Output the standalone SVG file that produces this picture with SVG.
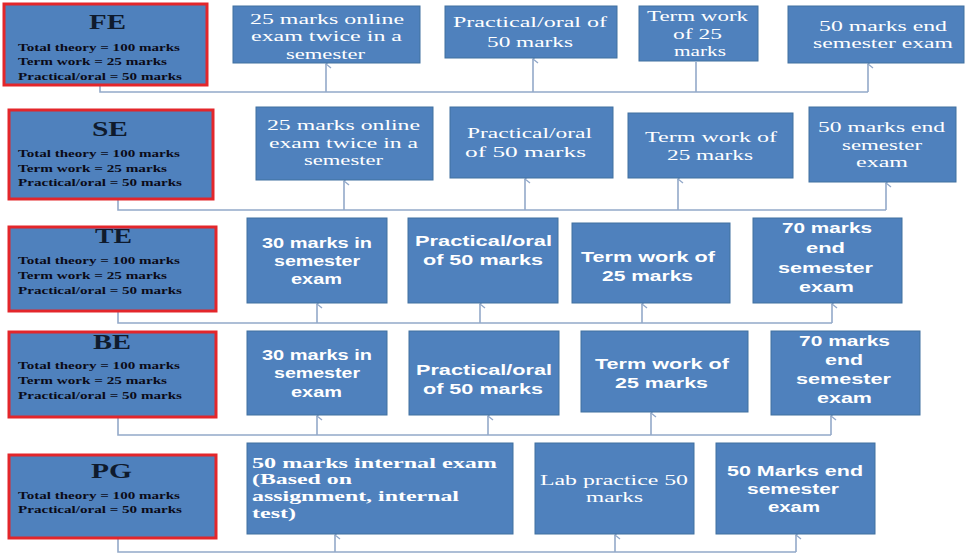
<svg xmlns="http://www.w3.org/2000/svg" width="969" height="554" viewBox="0 0 969 554">
<style>
.box{fill:#4F81BD;stroke:#41709F;stroke-width:1}
.lbox{fill:#4F81BD;stroke:#E3262B;stroke-width:3}
.sf{font-family:"Liberation Serif",serif;fill:#fff;font-size:15.5px}
.sfb{font-family:"Liberation Serif",serif;fill:#fff;font-size:15px;font-weight:bold}
.ss{font-family:"Liberation Sans",Arial,sans-serif;fill:#fff;font-size:15.5px;font-weight:bold}
.ttl{font-family:"Liberation Serif",serif;font-weight:bold;font-size:20px;fill:#0f1b2d}
.bd{font-family:"Liberation Serif",serif;font-weight:bold;font-size:10px;fill:#0b0b18}
.conn{stroke:#93A9C9;stroke-width:1.6;fill:none}
</style>
<defs>
<marker id="arr" viewBox="0 0 10 10" refX="5" refY="1" markerWidth="10" markerHeight="10" markerUnits="userSpaceOnUse" orient="auto-start-reverse">
<path d="M1,6 L5,1 L9,6" fill="none" stroke="#93A9C9" stroke-width="1.4"/>
</marker>
</defs>

<g id="connectors">
<path class="conn" d="M100,85 V92 H868"/>
<path class="conn" d="M326,92 V64" marker-end="url(#arr)"/>
<path class="conn" d="M533,92 V59" marker-end="url(#arr)"/>
<path class="conn" d="M696,92 V62"/>
<path class="conn" d="M868,92 V64" marker-end="url(#arr)"/>

<path class="conn" d="M118,199 V210 H886"/>
<path class="conn" d="M344,210 V181" marker-end="url(#arr)"/>
<path class="conn" d="M525,210 V179" marker-end="url(#arr)"/>
<path class="conn" d="M678,210 V179" marker-end="url(#arr)"/>
<path class="conn" d="M886,210 V183" marker-end="url(#arr)"/>

<path class="conn" d="M118,311 V323 H832"/>
<path class="conn" d="M317,323 V304" marker-end="url(#arr)"/>
<path class="conn" d="M480,323 V304" marker-end="url(#arr)"/>
<path class="conn" d="M642,323 V304" marker-end="url(#arr)"/>
<path class="conn" d="M832,323 V304" marker-end="url(#arr)"/>

<path class="conn" d="M118,417 V435 H831"/>
<path class="conn" d="M317,435 V416" marker-end="url(#arr)"/>
<path class="conn" d="M488,435 V416" marker-end="url(#arr)"/>
<path class="conn" d="M651,435 V413" marker-end="url(#arr)"/>
<path class="conn" d="M831,435 V416" marker-end="url(#arr)"/>

<path class="conn" d="M118,538 V552 H796"/>
<path class="conn" d="M335,552 V535" marker-end="url(#arr)"/>
<path class="conn" d="M615,552 V535" marker-end="url(#arr)"/>
<path class="conn" d="M796,552 V535" marker-end="url(#arr)"/>
</g>

<!-- FE row -->
<g id="fe">
<rect class="lbox" x="4" y="4" width="203" height="81"/>
<text class="ttl" x="89" y="29" textLength="37" lengthAdjust="spacingAndGlyphs">FE</text>
<text class="bd" x="18" y="51" textLength="162" lengthAdjust="spacingAndGlyphs">Total theory = 100 marks</text>
<text class="bd" x="18" y="65" textLength="149" lengthAdjust="spacingAndGlyphs">Term work = 25 marks</text>
<text class="bd" x="18" y="80" textLength="164" lengthAdjust="spacingAndGlyphs">Practical/oral = 50 marks</text>
</g>
<g id="fe1">
<rect class="box" x="233" y="6" width="187" height="57"/>
<text class="sf" x="250" y="24" textLength="154" lengthAdjust="spacingAndGlyphs">25 marks online</text>
<text class="sf" x="251" y="41" textLength="151" lengthAdjust="spacingAndGlyphs">exam twice in a</text>
<text class="sf" x="286" y="59" textLength="79" lengthAdjust="spacingAndGlyphs">semester</text>
</g>
<g id="fe2">
<rect class="box" x="445" y="6" width="172" height="52"/>
<text class="sf" x="453" y="27" textLength="154" lengthAdjust="spacingAndGlyphs">Practical/oral of</text>
<text class="sf" x="487" y="47" textLength="86" lengthAdjust="spacingAndGlyphs">50 marks</text>
</g>
<g id="fe3">
<rect class="box" x="639" y="6" width="119" height="55"/>
<text class="sf" x="647" y="21" textLength="101" lengthAdjust="spacingAndGlyphs">Term work</text>
<text class="sf" x="673" y="39" textLength="49" lengthAdjust="spacingAndGlyphs">of 25</text>
<text class="sf" x="674" y="56" textLength="52" lengthAdjust="spacingAndGlyphs">marks</text>
</g>
<g id="fe4">
<rect class="box" x="788" y="6" width="176" height="57"/>
<text class="sf" x="819" y="31" textLength="128" lengthAdjust="spacingAndGlyphs">50 marks end</text>
<text class="sf" x="813" y="48" textLength="140" lengthAdjust="spacingAndGlyphs">semester  exam</text>
</g>

<!-- SE row -->
<g id="se">
<rect class="lbox" x="9" y="110" width="204" height="89"/>
<text class="ttl" x="92" y="136" textLength="36" lengthAdjust="spacingAndGlyphs">SE</text>
<text class="bd" x="18" y="157" textLength="162" lengthAdjust="spacingAndGlyphs">Total theory = 100 marks</text>
<text class="bd" x="18" y="172" textLength="149" lengthAdjust="spacingAndGlyphs">Term work = 25 marks</text>
<text class="bd" x="18" y="186" textLength="164" lengthAdjust="spacingAndGlyphs">Practical/oral = 50 marks</text>
</g>
<g id="se1">
<rect class="box" x="256" y="107" width="177" height="73"/>
<text class="sf" x="267" y="130" textLength="153" lengthAdjust="spacingAndGlyphs">25 marks online</text>
<text class="sf" x="269" y="148" textLength="149" lengthAdjust="spacingAndGlyphs">exam twice in a</text>
<text class="sf" x="304" y="165" textLength="79" lengthAdjust="spacingAndGlyphs">semester</text>
</g>
<g id="se2">
<rect class="box" x="450" y="107" width="163" height="71"/>
<text class="sf" x="467" y="138" textLength="125" lengthAdjust="spacingAndGlyphs">Practical/oral</text>
<text class="sf" x="465" y="157" textLength="121" lengthAdjust="spacingAndGlyphs">of 50 marks</text>
</g>
<g id="se3">
<rect class="box" x="628" y="113" width="165" height="65"/>
<text class="sf" x="645" y="142" textLength="132" lengthAdjust="spacingAndGlyphs">Term work of</text>
<text class="sf" x="667" y="160" textLength="86" lengthAdjust="spacingAndGlyphs">25 marks</text>
</g>
<g id="se4">
<rect class="box" x="809" y="107" width="147" height="75"/>
<text class="sf" x="818" y="132" textLength="127" lengthAdjust="spacingAndGlyphs">50 marks end</text>
<text class="sf" x="842" y="150" textLength="80" lengthAdjust="spacingAndGlyphs">semester</text>
<text class="sf" x="856" y="167" textLength="52" lengthAdjust="spacingAndGlyphs">exam</text>
</g>

<!-- TE row -->
<g id="te">
<rect class="lbox" x="9" y="227" width="207" height="84"/>
<text class="ttl" x="95" y="243" textLength="37" lengthAdjust="spacingAndGlyphs">TE</text>
<text class="bd" x="18" y="264" textLength="162" lengthAdjust="spacingAndGlyphs">Total theory = 100 marks</text>
<text class="bd" x="18" y="279" textLength="149" lengthAdjust="spacingAndGlyphs">Term work = 25 marks</text>
<text class="bd" x="18" y="294" textLength="164" lengthAdjust="spacingAndGlyphs">Practical/oral = 50 marks</text>
</g>
<g id="te1">
<rect class="box" x="247" y="218" width="140" height="85"/>
<text class="ss" x="262" y="248" textLength="110" lengthAdjust="spacingAndGlyphs">30 marks in</text>
<text class="ss" x="274" y="266" textLength="86" lengthAdjust="spacingAndGlyphs">semester</text>
<text class="ss" x="291" y="284" textLength="51" lengthAdjust="spacingAndGlyphs">exam</text>
</g>
<g id="te2">
<rect class="box" x="408" y="218" width="150" height="85"/>
<text class="ss" x="415" y="246" textLength="137" lengthAdjust="spacingAndGlyphs">Practical/oral</text>
<text class="ss" x="423" y="265" textLength="120" lengthAdjust="spacingAndGlyphs">of 50 marks</text>
</g>
<g id="te3">
<rect class="box" x="572" y="223" width="158" height="80"/>
<text class="ss" x="581" y="262" textLength="134" lengthAdjust="spacingAndGlyphs">Term work of</text>
<text class="ss" x="602" y="281" textLength="91" lengthAdjust="spacingAndGlyphs">25 marks</text>
</g>
<g id="te4">
<rect class="box" x="753" y="218" width="149" height="85"/>
<text class="ss" x="782" y="233" textLength="90" lengthAdjust="spacingAndGlyphs">70 marks</text>
<text class="ss" x="806" y="253" textLength="39" lengthAdjust="spacingAndGlyphs">end</text>
<text class="ss" x="778" y="273" textLength="95" lengthAdjust="spacingAndGlyphs">semester</text>
<text class="ss" x="799" y="292" textLength="55" lengthAdjust="spacingAndGlyphs">exam</text>
</g>

<!-- BE row -->
<g id="be">
<rect class="lbox" x="9" y="332" width="207" height="85"/>
<text class="ttl" x="93" y="349" textLength="38" lengthAdjust="spacingAndGlyphs">BE</text>
<text class="bd" x="18" y="369" textLength="162" lengthAdjust="spacingAndGlyphs">Total theory = 100 marks</text>
<text class="bd" x="18" y="384" textLength="149" lengthAdjust="spacingAndGlyphs">Term work = 25 marks</text>
<text class="bd" x="18" y="399" textLength="164" lengthAdjust="spacingAndGlyphs">Practical/oral = 50 marks</text>
</g>
<g id="be1">
<rect class="box" x="247" y="331" width="140" height="84"/>
<text class="ss" x="262" y="360" textLength="110" lengthAdjust="spacingAndGlyphs">30 marks in</text>
<text class="ss" x="274" y="378" textLength="86" lengthAdjust="spacingAndGlyphs">semester</text>
<text class="ss" x="291" y="397" textLength="51" lengthAdjust="spacingAndGlyphs">exam</text>
</g>
<g id="be2">
<rect class="box" x="409" y="331" width="150" height="84"/>
<text class="ss" x="416" y="375" textLength="136" lengthAdjust="spacingAndGlyphs">Practical/oral</text>
<text class="ss" x="423" y="394" textLength="120" lengthAdjust="spacingAndGlyphs">of 50 marks</text>
</g>
<g id="be3">
<rect class="box" x="581" y="331" width="167" height="81"/>
<text class="ss" x="595" y="369" textLength="134" lengthAdjust="spacingAndGlyphs">Term work of</text>
<text class="ss" x="615" y="388" textLength="93" lengthAdjust="spacingAndGlyphs">25 marks</text>
</g>
<g id="be4">
<rect class="box" x="771" y="331" width="149" height="84"/>
<text class="ss" x="799" y="346" textLength="91" lengthAdjust="spacingAndGlyphs">70 marks</text>
<text class="ss" x="825" y="365" textLength="38" lengthAdjust="spacingAndGlyphs">end</text>
<text class="ss" x="796" y="384" textLength="95" lengthAdjust="spacingAndGlyphs">semester</text>
<text class="ss" x="817" y="403" textLength="55" lengthAdjust="spacingAndGlyphs">exam</text>
</g>

<!-- PG row -->
<g id="pg">
<rect class="lbox" x="9" y="455" width="207" height="83"/>
<text class="ttl" x="91" y="478" textLength="41" lengthAdjust="spacingAndGlyphs">PG</text>
<text class="bd" x="18" y="499" textLength="162" lengthAdjust="spacingAndGlyphs">Total theory = 100 marks</text>
<text class="bd" x="18" y="513" textLength="164" lengthAdjust="spacingAndGlyphs">Practical/oral = 50 marks</text>
</g>
<g id="pg1">
<rect class="box" x="247" y="443" width="266" height="91"/>
<text class="sfb" x="252" y="468" textLength="245" lengthAdjust="spacingAndGlyphs">50 marks internal  exam</text>
<text class="sfb" x="252" y="484" textLength="100" lengthAdjust="spacingAndGlyphs">(Based on</text>
<text class="sfb" x="252" y="501" textLength="207" lengthAdjust="spacingAndGlyphs">assignment, internal</text>
<text class="sfb" x="252" y="518" textLength="44" lengthAdjust="spacingAndGlyphs">test)</text>
</g>
<g id="pg2">
<rect class="box" x="535" y="443" width="159" height="91"/>
<text class="sf" x="540" y="485" textLength="148" lengthAdjust="spacingAndGlyphs">Lab practice 50</text>
<text class="sf" x="586" y="502" textLength="57" lengthAdjust="spacingAndGlyphs">marks</text>
</g>
<g id="pg3">
<rect class="box" x="716" y="443" width="159" height="91"/>
<text class="ss" x="727" y="476" textLength="136" lengthAdjust="spacingAndGlyphs">50  Marks end</text>
<text class="ss" x="747" y="494" textLength="92" lengthAdjust="spacingAndGlyphs">semester</text>
<text class="ss" x="768" y="512" textLength="52" lengthAdjust="spacingAndGlyphs">exam</text>
</g>
</svg>
